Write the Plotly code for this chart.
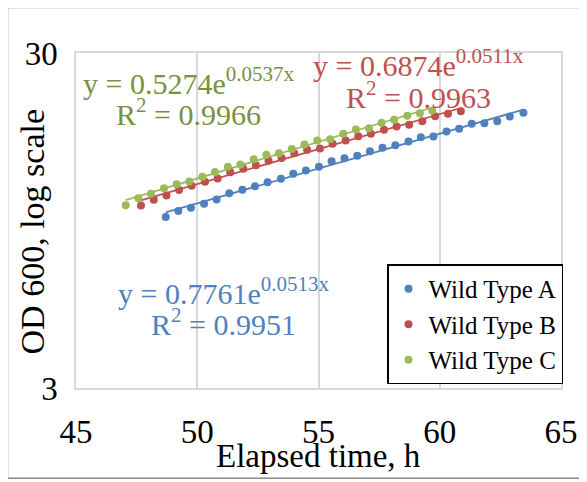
import numpy as np
import plotly.graph_objects as go

# ---- data ----
time_a = [48.70, 49.22, 49.74, 50.28, 50.80, 51.32, 51.86, 52.38, 52.90, 53.45,
          53.96, 54.48, 55.02, 55.54, 56.07, 56.60, 57.12, 57.64, 58.17, 58.71,
          59.22, 59.74, 60.28, 60.80, 61.32, 61.84, 62.37, 62.89, 63.45]
od_a = [9.71, 10.12, 10.35, 10.64, 10.96, 11.45, 11.72, 12.01, 12.35, 12.64,
        13.09, 13.38, 13.72, 14.26, 14.56, 14.80, 15.28, 15.64, 15.92, 16.33,
        16.82, 16.90, 17.49, 17.82, 18.44, 18.52, 18.77, 19.39, 19.89]

time_b = [47.68, 48.21, 48.73, 49.25, 49.77, 50.32, 50.84, 51.36, 51.90, 52.42,
          52.94, 53.48, 54.00, 54.53, 55.06, 55.58, 56.12, 56.64, 57.16, 57.70,
          58.22, 58.74, 59.28, 59.81, 60.34, 60.87]
od_b = [10.52, 10.94, 11.27, 11.69, 12.05, 12.38, 12.66, 13.22, 13.53, 13.87,
        14.30, 14.58, 15.07, 15.42, 15.56, 16.07, 16.44, 16.94, 17.22, 17.70,
        18.10, 18.31, 18.77, 19.43, 19.75, 20.11]

time_c = [47.05, 47.57, 48.09, 48.63, 49.15, 49.67, 50.21, 50.73, 51.26, 51.78,
          52.33, 52.85, 53.37, 53.90, 54.42, 54.95, 55.48, 56.02, 56.54, 57.08,
          57.60, 58.12, 58.66, 59.18, 59.69]
od_c = [10.54, 11.06, 11.40, 11.85, 12.18, 12.40, 12.81, 13.25, 13.72, 13.94,
        14.46, 14.90, 15.07, 15.51, 15.99, 16.44, 16.59, 17.22, 17.73, 17.89,
        18.57, 18.96, 19.49, 19.84, 20.21]

series_names = ["Wild Type A", "Wild Type B", "Wild Type C"]
eq_a = ("0.7761", "0.0513", "0.9951")
eq_b = ("0.6874", "0.0511", "0.9963")
eq_c = ("0.5274", "0.0537", "0.9966")

x_ticks = [45, 50, 55, 60, 65]
y_ticks = [3, 30]
x_title = "Elapsed time, h"
y_title = "OD 600, log scale"

# ---- styling ----
colors = ["#4F81BD", "#C0504D", "#9BBB59"]
text_colors = ["#4F81BD", "#C0504D", "#76923C"]
FONT = "Liberation Serif"

fig = go.Figure()
datasets = [(time_a, od_a), (time_b, od_b), (time_c, od_c)]

for (t, v), name, col in zip(datasets, series_names, colors):
    t = np.array(t)
    v = np.array(v)
    k, b = np.polyfit(t, np.log(v), 1)
    tx = np.linspace(t.min(), t.max(), 50)
    fig.add_trace(go.Scatter(x=tx, y=np.exp(b + k * tx), mode="lines",
                             line=dict(color=col, width=1.75),
                             showlegend=False, hoverinfo="skip"))

for (t, v), name, col in zip(datasets, series_names, colors):
    fig.add_trace(go.Scatter(x=t, y=v, mode="markers", name=name,
                             marker=dict(color=col, size=8)))

# page body has an 8px default margin -> figure origin is at (8, 8) in the window
OFF = 8
L, R, T, B = 76, 561, 52.5, 387.6   # plot area in window pixels
W, H = 587, 482

def px(xp):
    return (xp - L) / (R - L)
def py(yp):
    return (B - yp) / (B - T)

labels = [
    (eq_a, text_colors[0], 223, 291, 322),
    (eq_b, text_colors[1], 418, 63, 95),
    (eq_c, text_colors[2], 188, 81, 112),
]
for (a, k, r2), col, cx, y1, y2 in labels:
    fig.add_annotation(x=px(cx), y=py(y1), xref="paper", yref="paper",
                       text=f"y = {a}e<sup>{k}x</sup>", showarrow=False,
                       font=dict(family=FONT, size=30, color=col),
                       xanchor="center", yanchor="middle")
    fig.add_annotation(x=px(cx), y=py(y2), xref="paper", yref="paper",
                       text=f"R<sup>2</sup> = {r2}", showarrow=False,
                       font=dict(family=FONT, size=30, color=col),
                       xanchor="center", yanchor="middle")

# axis titles
fig.add_annotation(x=px(32), y=py(231), xref="paper", yref="paper",
                   text=y_title, textangle=-90, showarrow=False,
                   font=dict(family=FONT, size=34, color="black"),
                   xanchor="center", yanchor="middle")
fig.add_annotation(x=px(318.5), y=py(456), xref="paper", yref="paper",
                   text=x_title, showarrow=False,
                   font=dict(family=FONT, size=33, color="black"),
                   xanchor="center", yanchor="middle")

# outer chart border
fig.add_shape(type="rect", xref="paper", yref="paper",
              x0=px(7.5), x1=px(580), y0=py(478), y1=py(7),
              line=dict(color="#898989", width=1.5), fillcolor="rgba(0,0,0,0)",
              layer="below")

fig.update_layout(
    width=W, height=H,
    margin=dict(l=L - OFF, r=W - (R - OFF), t=T - OFF, b=H - (B - OFF),
                autoexpand=False),
    paper_bgcolor="white", plot_bgcolor="white",
    font=dict(family=FONT, color="black"),
    showlegend=True,
    legend=dict(x=px(387), xanchor="left", y=py(384), yanchor="bottom",
                bgcolor="white", bordercolor="black", borderwidth=1.5,
                font=dict(family=FONT, size=25, color="black"),
                tracegroupgap=0, itemwidth=30),
    xaxis=dict(range=[45, 65], tickvals=x_ticks, showgrid=True,
               gridcolor="#D9D9D9", gridwidth=1.5, zeroline=False,
               showline=True, linecolor="#D9D9D9", linewidth=1.5, mirror=True,
               ticks="", ticklabelstandoff=14, automargin=False,
               tickfont=dict(family=FONT, size=33, color="black")),
    yaxis=dict(type="log", range=[np.log10(3), np.log10(30)], tickvals=y_ticks,
               ticktext=["3", "30"], showgrid=True, gridcolor="#D9D9D9",
               gridwidth=1.5, zeroline=False, showline=True,
               linecolor="#D9D9D9", linewidth=1.5, mirror=True,
               ticks="", ticklabelstandoff=10, automargin=False,
               tickfont=dict(family=FONT, size=33, color="black")),
)

fig.write_html("out.html")
